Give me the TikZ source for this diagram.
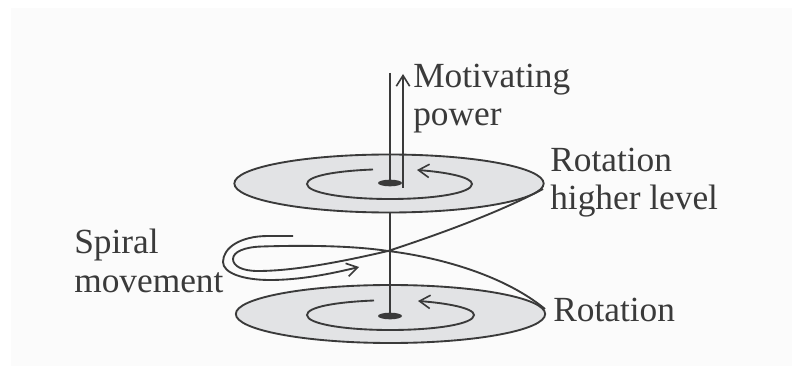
\documentclass[tikz,border=0pt]{standalone}
\usepackage{fontspec}
\setmainfont{Liberation Serif}
\usetikzlibrary{arrows.meta,shapes.geometric}
\definecolor{ink}{HTML}{3A3A3A}
\definecolor{disc}{HTML}{E2E3E5}
\definecolor{paper}{HTML}{FBFBFB}
\tikzset{
  plate/.style={ellipse,draw=ink,fill=disc,line width=1.4pt,inner sep=0pt,minimum width=232pt,minimum height=43.5pt},
  hub/.style={ellipse,fill=ink,inner sep=0pt,minimum width=18pt,minimum height=5pt},
  lab/.style={anchor=base west,inner sep=0pt,text=ink,font=\fontsize{26.5}{30}\selectfont},
  ln/.style={draw=ink,line width=1.4pt},
  tip/.style={-{Straight Barb[length=8pt,width=10pt,line width=1.2pt]}}
}
\begin{document}
\begin{tikzpicture}[x=0.75pt,y=-0.75pt]
\useasboundingbox (0,0) rectangle (800,374);
\fill[white] (0,0) rectangle (800,374);
\fill[paper] (11,8) rectangle (792,366);
% discs
\node[plate] (top) at (389,183.5) {};
\node[plate] (bot) at (390.5,314) {};
% inner rotation arrows
\coordinate (ts) at (373,169.5);
\coordinate (te) at (417,170);
\coordinate (bs) at (374,300.5);
\coordinate (be) at (418,301);
\draw[ln,tip] (ts) .. controls (335,171) and (307,176) .. (307,184)
  .. controls (307,193) and (345,199) .. (390,199)
  .. controls (435,199) and (472,193) .. (472,184)
  .. controls (472,177) and (445,172) .. (te);
\draw[ln,tip] (bs) .. controls (336,302) and (307,307) .. (307,315)
  .. controls (307,324) and (345,330) .. (390,330)
  .. controls (436,330) and (474,324) .. (474,315)
  .. controls (474,308) and (446,303) .. (be);
% axis
\coordinate (axt) at (390,73);
\coordinate (mt) at (403,188);
\coordinate (mh) at (403,74);
\node[hub] (h1) at (390,183) {};
\node[hub] (h2) at (390,316) {};
\draw[ln] (axt) -- (h1.center);
\draw[ln] (top.south) ++(1,0) -- (h2.center);
\draw[ln,tip] (mt) -- (mh);
% spiral
\coordinate (sa) at (543,189);
\coordinate (sb) at (545,309);
\coordinate (cross) at (388,251);
\draw[ln] (sa) .. controls (500,212) and (440,234) .. (cross)
  .. controls (345,261) and (295,271) .. (258,271)
  .. controls (242,271) and (233,266) .. (233,259)
  .. controls (233,252) and (244,247) .. (262,246.5)
  .. controls (310,245) and (355,246) .. (cross)
  .. controls (430,256) and (500,272) .. (sb);
\coordinate (oa) at (293,236);
\coordinate (oe) at (359,267);
\draw[ln,tip] (oa) -- (268,236) .. controls (240,236) and (223,248) .. (223,262)
  .. controls (223,273) and (243,280) .. (270,280)
  .. controls (300,280) and (330,274) .. (oe);
% labels
\node[lab] (l1) at (413,88) {Motivating};
\node[lab] (l2) at (413,126) {power};
\node[lab] (l3) at (550,172) {Rotation};
\node[lab] (l4) at (550,210) {higher level};
\node[lab] (l5) at (74,253) {Spiral};
\node[lab] (l6) at (74,292) {movement};
\node[lab] (l7) at (553,321) {Rotation};
\end{tikzpicture}
\end{document}
